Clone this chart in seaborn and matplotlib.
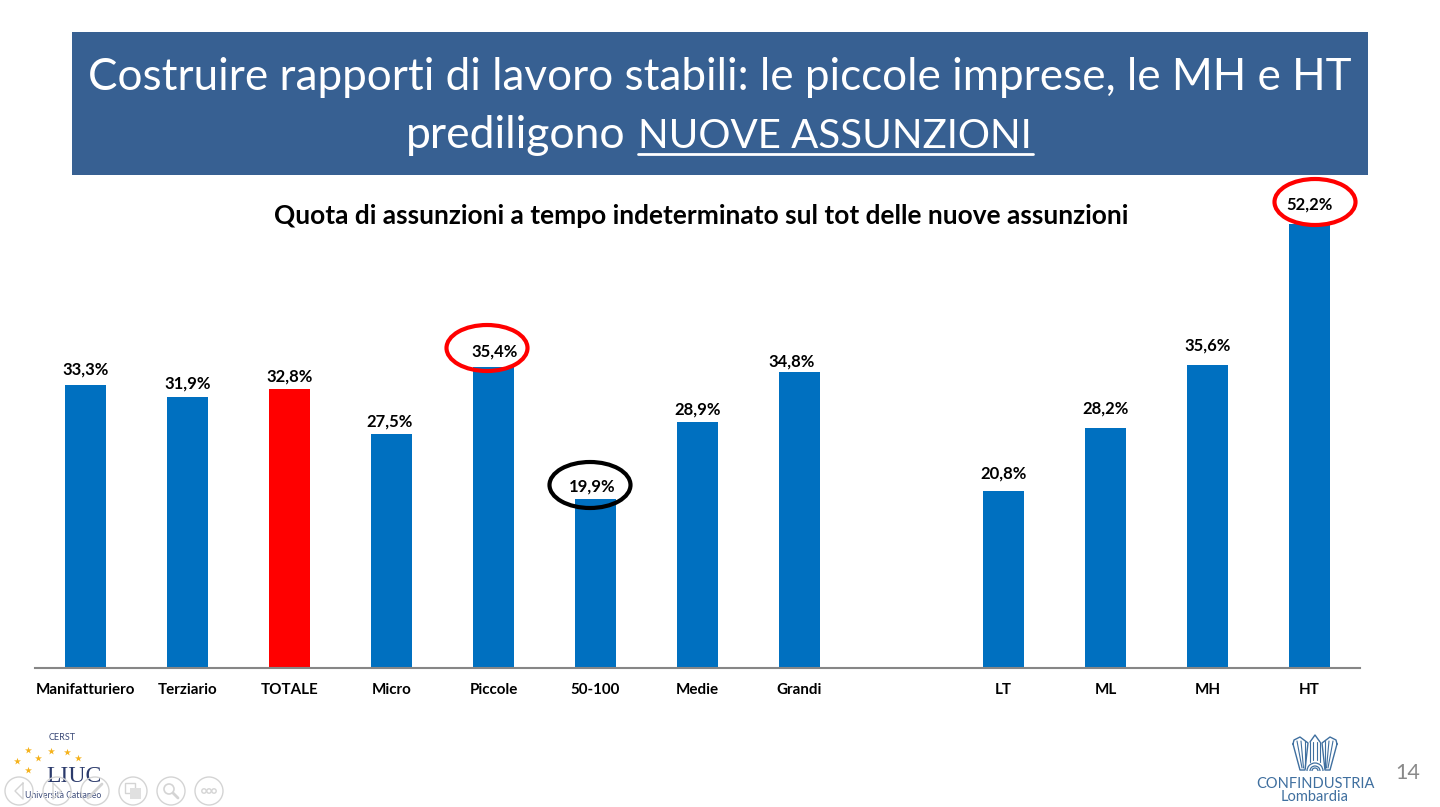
import numpy as np
import pandas as pd
import seaborn as sns
import matplotlib.pyplot as plt
from matplotlib.patches import Ellipse, Rectangle, Circle, Arc

categories = ['Manifatturiero', 'Terziario', 'TOTALE', 'Micro', 'Piccole', '50-100', 'Medie', 'Grandi',
              ' ', 'LT', 'ML', 'MH', 'HT']
values = [33.3, 31.9, 32.8, 27.5, 35.4, 19.9, 28.9, 34.8, np.nan, 20.8, 28.2, 35.6, 52.2]

title_line1 = 'Costruire rapporti di lavoro stabili: le piccole imprese, le MH e HT'
title_line2a = 'prediligono'
title_line2b = 'NUOVE ASSUNZIONI'
subtitle = 'Quota di assunzioni a tempo indeterminato sul tot delle nuove assunzioni'

BLUE = '#0070C0'
RED = '#FF0000'
BANNER = '#376092'

sns.set_theme(style='white')
plt.rcParams['font.family'] = ['Lato', 'DejaVu Sans']

df = pd.DataFrame({'cat': categories, 'val': values})
palette = {c: (RED if c == 'TOTALE' else BLUE) for c in categories}

fig = plt.figure(figsize=(14.4, 8.07), dpi=100)
W, H = 1440, 807
# bars axes, from the pixel box of the plot area
ax = fig.add_axes([34.5 / W, 1 - 668 / H, (1360 - 34) / W, (668 - 175) / H])
sns.barplot(data=df, x='cat', y='val', hue='cat', order=categories, hue_order=categories,
            palette=palette, width=0.4, dodge=False, legend=False, saturation=1, linewidth=0, ax=ax)
ax.set_xlim(-0.5, 12.5)
ax.set_ylim(0, 493 / 8.506)
ax.set_xlabel('')
ax.set_ylabel('')
ax.set_yticks([])
ax.patch.set_alpha(0)
for s in ['top', 'left', 'right']:
    ax.spines[s].set_visible(False)
ax.spines['bottom'].set_color('#868686')
ax.spines['bottom'].set_linewidth(1.5)
ax.tick_params(axis='x', length=0, pad=11)
for lab in ax.get_xticklabels():
    lab.set_fontsize(10.9)
    lab.set_fontweight('bold')
    lab.set_color('black')

# data labels, offset in pixels above each bar
label_dx = [0, 0, 0, -2, 1, -3, 0, -8, 0, 0, 0, 0, 0]
label_dy = [15, 13, 12, 13, 15, 12, 13, 10, 0, 18, 20, 20, 19]
for i, v in enumerate(values):
    if np.isnan(v):
        continue
    ax.annotate(f'{v:.1f}%'.replace('.', ','), (i, v), xytext=(label_dx[i], label_dy[i]),
                textcoords='offset pixels', ha='center', va='center',
                fontsize=12, fontweight='bold', color='black', annotation_clip=False, zorder=5)

# overlay in pixel coordinates for the slide furniture
ov = fig.add_axes([0, 0, 1, 1], zorder=-1)
ov.set_xlim(0, W)
ov.set_ylim(H, 0)
ov.axis('off')
top = fig.add_axes([0, 0, 1, 1], zorder=5)
top.set_xlim(0, W)
top.set_ylim(H, 0)
top.axis('off')
top.patch.set_alpha(0)

ov.add_patch(Rectangle((72, 32), 1296, 143, color=BANNER, lw=0))
ov.text(720, 78, title_line1, color='white', fontsize=31.7, ha='center', va='center')
ov.text(406, 136, title_line2a, color='white', fontsize=32, ha='left', va='center')
ov.text(638, 136, title_line2b, color='white', fontsize=29, ha='left', va='center')
ov.plot([638, 1033], [154, 154], color='white', lw=2)
ov.text(701, 216, subtitle, color='black', fontsize=18.9, fontweight='bold', ha='center', va='center')

# highlight ellipses
for (cx, cy, w, h, col) in [(1315, 202, 81, 46, RED), (487, 348, 81, 46, RED), (590, 485, 81, 46, 'black')]:
    top.add_patch(Ellipse((cx, cy), w, h, fill=False, ec=col, lw=3))

# slide number
ov.text(1408, 773, '14', color='#898989', fontsize=15.5, ha='center', va='center')

# Confindustria logo
LOGO = '#3F6F9F'
ov.text(1315, 784, 'CONFINDUSTRIA', color=LOGO, fontsize=10.5, ha='center', va='center')
ov.text(1315, 797, 'Lombardia', color=LOGO, fontsize=10.5, ha='center', va='center')
for sign in [-1, 1]:
    wing_x = [1315 + sign * d for d in [22, 21, 15, 7, 10, 15, 22]]
    wing_y = [744, 740, 737, 743, 770, 770, 744]
    ov.plot(wing_x, wing_y, color=LOGO, lw=1)
    for d0, d1 in [(18, 13), (14, 11.5), (10, 10)]:
        ov.plot([1315 + sign * d0, 1315 + sign * d1], [741, 768], color=LOGO, lw=0.8)
    ov.plot([1315 + sign * 5, 1315 + sign * 5], [742, 762], color=LOGO, lw=0.8)
    ov.plot([1315 + sign * 2, 1315 + sign * 2], [742, 760], color=LOGO, lw=0.8)
ov.plot([1310, 1315, 1320], [742, 735, 742], color=LOGO, lw=1)
for r in [8, 5, 3]:
    ov.add_patch(Arc((1315, 771), r * 2, r * 2, theta1=180, theta2=360, ec=LOGO, lw=0.9))

# LIUC logo
star_x = [17, 28, 38, 51, 67, 78, 28]
star_y = [761, 750, 758, 751, 752, 758, 770]
ov.scatter(star_x, star_y, marker='*', s=28, color='#F5B21B', lw=0)
ov.text(62, 737, 'CERST', color='#3B4A78', fontsize=6.5, ha='center', va='center')
ov.text(74, 777, 'LIUC', color='#2B3A6B', fontsize=17, family='Liberation Serif', ha='center', va='center')
ov.text(63, 796, 'Università Cattaneo', color='#3B4A78', fontsize=6.2, ha='center', va='center')

# presentation nav buttons, faint
for cx in [19, 57, 95, 133, 171, 209]:
    top.add_patch(Circle((cx, 791), 14, fill=False, ec='#D4D4D4', lw=1))
top.plot([23, 15, 23, 23], [783, 791, 799, 783], color='#D4D4D4', lw=1)
top.plot([53, 61, 53, 53], [783, 791, 799, 783], color='#D4D4D4', lw=1)
top.plot([88, 102], [798, 784], color='#D4D4D4', lw=2)
top.add_patch(Rectangle((125, 783), 10, 10, fill=False, ec='#D4D4D4', lw=1))
top.add_patch(Rectangle((130, 788), 11, 11, color='#E0E0E0', lw=0))
top.add_patch(Circle((169, 789), 5, fill=False, ec='#D4D4D4', lw=1.2))
top.plot([173, 178], [793, 798], color='#D4D4D4', lw=2)
top.scatter([204, 209, 214], [791, 791, 791], s=10, facecolors='none', edgecolors='#D4D4D4', lw=1)

fig.savefig('out.png', dpi=100, facecolor='white')
